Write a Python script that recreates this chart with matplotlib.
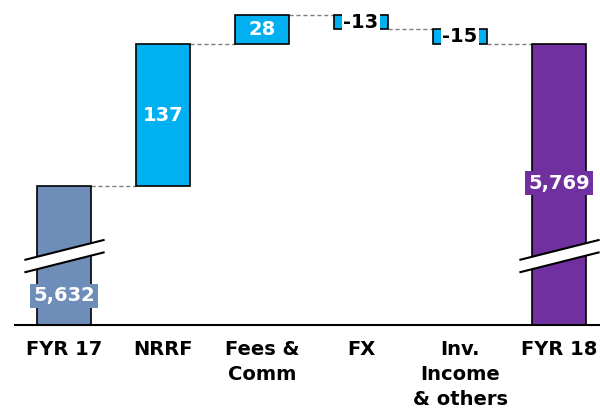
import matplotlib.pyplot as plt
import matplotlib.patches as mpatches

categories = ['FYR 17', 'NRRF', 'Fees &\nComm', 'FX', 'Inv.\nIncome\n& others', 'FYR 18']
changes = [5632, 137, 28, -13, -15, 5769]
labels = ['5,632', '137', '28', '-13', '-15', '5,769']
colors = ['#6f8db9', '#00b0f0', '#00b0f0', '#00b0f0', '#00b0f0', '#7030a0']

y_low, y_high = 5498, 5807

fig = plt.figure(figsize=(6, 4.15), dpi=100)
ax = fig.add_axes([0.025, 0.217, 0.975, 0.771])
ax.set_xlim(-0.495, 5.414)
ax.set_ylim(y_low, y_high)

width = 0.55
running = 0
spans = []
for i, (v, c) in enumerate(zip(changes, colors)):
    if i == 0 or i == len(changes) - 1:
        bottom, top = y_low, v
        running = v
    else:
        bottom = running
        running += v
        top = running
    lo, hi = min(bottom, top), max(bottom, top)
    ax.bar(i, hi - lo, bottom=lo, width=width, color=c, edgecolor='black',
           linewidth=1.2, zorder=2)
    spans.append((lo, hi))

# dashed connectors at the running total
running = changes[0]
for i in range(len(changes) - 1):
    if i > 0:
        running += changes[i]
    ax.plot([i + width / 2, i + 1 - width / 2], [running, running],
            color='#7f7f7f', linestyle=(0, (3, 2)), linewidth=1, zorder=1)

# value labels
for i, (lab, (lo, hi)) in enumerate(zip(labels, spans)):
    if i == 0:
        ax.text(i, 5526, lab, ha='center', va='center', color='white',
                fontsize=14, fontweight='bold', zorder=5,
                bbox=dict(facecolor=colors[i], edgecolor='none', pad=2))
    elif i == len(labels) - 1:
        ax.text(i, 5635, lab, ha='center', va='center', color='white',
                fontsize=14, fontweight='bold', zorder=5,
                bbox=dict(facecolor=colors[i], edgecolor='none', pad=2))
    elif changes[i] > 0:
        ax.text(i, (lo + hi) / 2, lab, ha='center', va='center', color='white',
                fontsize=14, fontweight='bold', zorder=5)
    else:
        ax.text(i, (lo + hi) / 2, lab, ha='center', va='center', color='black',
                fontsize=14, fontweight='bold', zorder=5,
                bbox=dict(facecolor='white', edgecolor='none', pad=0.8))

# axis break marks on the two total bars
for i in (0, len(changes) - 1):
    x0, x1 = i - 0.39, i + 0.4
    ya = (5561, 5580)
    yb = (5549, 5568)
    gap = mpatches.Polygon([(x0, ya[0]), (x1, ya[1]), (x1, yb[1]), (x0, yb[0])],
                           closed=True, facecolor='white', edgecolor='none',
                           zorder=3)
    ax.add_patch(gap)
    ax.plot([x0, x1], ya, color='black', linewidth=1.5, zorder=4)
    ax.plot([x0, x1], yb, color='black', linewidth=1.5, zorder=4)

for s in ('top', 'right', 'left'):
    ax.spines[s].set_visible(False)
ax.spines['bottom'].set_linewidth(1.5)
ax.set_yticks([])
ax.set_xticks(range(len(categories)))
ax.set_xticklabels(categories, fontsize=14, fontweight='bold', va='top',
                   linespacing=1.4)
ax.tick_params(axis='x', length=0, pad=11)

fig.savefig('out.png', dpi=100)
